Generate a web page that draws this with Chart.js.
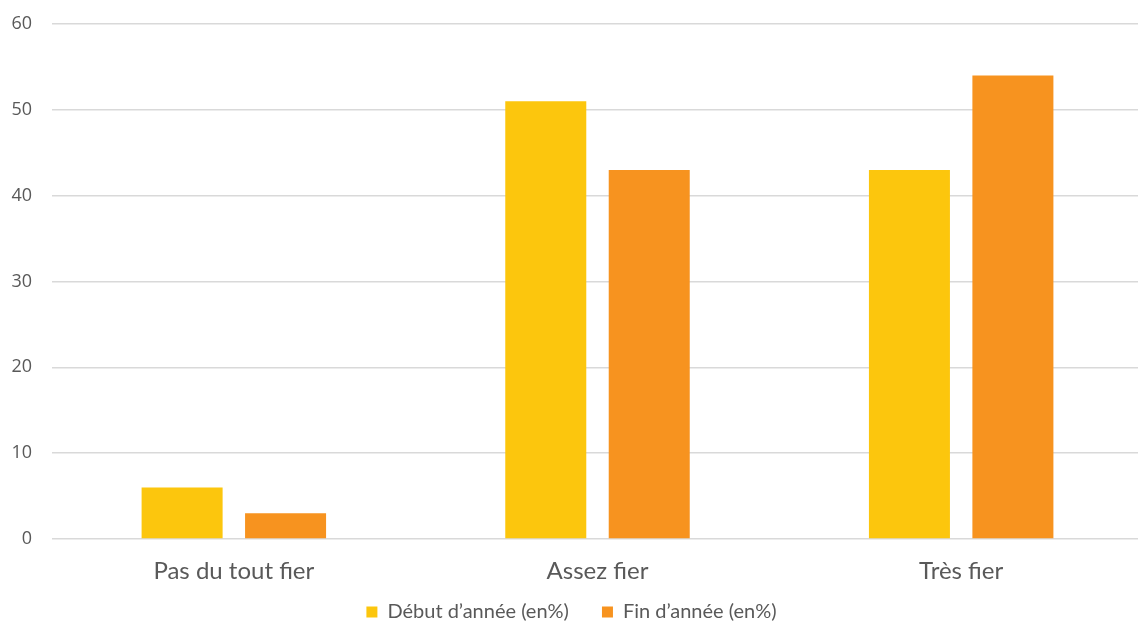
<!DOCTYPE html>
<html>
<head>
<meta charset="utf-8">
<script src="https://cdn.jsdelivr.net/npm/chart.js@4"></script>
<style>
  html, body { margin:0; padding:0; background:#fff; overflow:hidden; }
  #wrap { position:relative; width:1143px; height:632px; }
</style>
</head>
<body>
<div id="wrap"><canvas id="chart"></canvas></div>
<script>
// categories and series
const categories = ['Pas du tout fier', 'Assez fier', 'Très fier'];
const debutAnnee = [6, 51, 43];
const finAnnee = [3, 43, 54];
const seriesLabels = ['Début d\u2019année (en%)', 'Fin d\u2019année (en%)'];
const yTicks = [0, 10, 20, 30, 40, 50, 60];

const textColor = '#595959';
const gridColor = '#d9d9d9';

// default legend items, with a wider gap after the first one
const baseLabels = Chart.defaults.plugins.legend.labels.generateLabels;
function legendLabels(chart) {
  const items = baseLabels(chart);
  items.forEach((it, i) => { if (i < items.length - 1) it.text += '\u2003\u2002'; });
  return items;
}

new Chart(document.getElementById('chart').getContext('2d'), {
  type: 'bar',
  data: {
    labels: categories,
    datasets: [
      { label: seriesLabels[0], data: debutAnnee, backgroundColor: '#fcc60d' },
      { label: seriesLabels[1], data: finAnnee, backgroundColor: '#f7931f' }
    ]
  },
  options: {
    responsive: true,
    maintainAspectRatio: false,
    animation: false,
    datasets: { bar: { categoryPercentage: 0.569, barPercentage: 0.783 } },
    layout: { padding: { top: 24, left: 0, right: 0, bottom: 0 } },
    plugins: {
      tooltip: { enabled: false },
      legend: {
        position: 'bottom',
        labels: {
          color: textColor,
          font: { family: 'Lato', size: 20 },
          boxWidth: 11,
          boxHeight: 11,
          padding: 8,
          generateLabels: legendLabels
        }
      }
    },
    scales: {
      x: {
        grid: { display: false, drawTicks: false },
        border: { display: false },
        ticks: { color: textColor, font: { family: 'Lato', size: 24 }, padding: 18, maxRotation: 0 },
        afterFit(scale) { scale.height = 55; }
      },
      y: {
        min: 0,
        max: 60,
        afterBuildTicks(scale) { scale.ticks = yTicks.map(v => ({ value: v })); },
        grid: { color: gridColor, lineWidth: 1.5, tickLength: 18, tickColor: 'transparent' },
        border: { display: false },
        ticks: { color: textColor, font: { family: 'Open Sans', size: 18 }, padding: 2 },
        afterFit(scale) { scale.width = 52; }
      }
    }
  }
});
</script>
</body>
</html>
